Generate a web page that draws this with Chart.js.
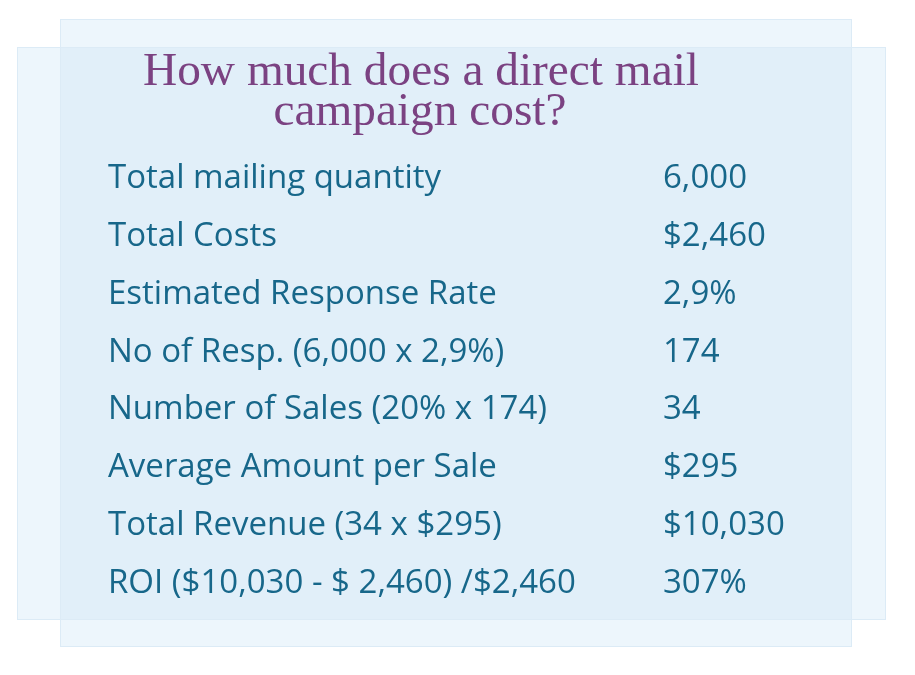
<!DOCTYPE html>
<html>
<head>
<meta charset="utf-8">
<script src="https://cdn.jsdelivr.net/npm/chart.js@4"></script>
<style>
html,body{margin:0;padding:0;background:#ffffff;}
#wrap{width:915px;height:675px;}
</style>
</head>
<body>
<div id="wrap"><canvas id="c" width="915" height="675"></canvas></div>
<script>
const titleLines = ['How much does a direct mail', 'campaign cost?'];
const rowLabels = [
  'Total mailing quantity',
  'Total Costs',
  'Estimated Response Rate',
  'No of Resp. (6,000 x 2,9%)',
  'Number of Sales (20% x 174)',
  'Average Amount per Sale',
  'Total Revenue (34 x $295)',
  'ROI ($10,030 - $ 2,460) /$2,460'
];
const rowValues = ['6,000', '$2,460', '2,9%', '174', '34', '$295', '$10,030', '307%'];

const textColor = '#17678a';
const titleColor = '#7b4282';

const backdrop = {
  id: 'backdrop',
  beforeDraw(chart) {
    const ctx = chart.ctx;
    ctx.save();
    ctx.fillStyle = '#ffffff';
    ctx.fillRect(0, 0, chart.width, chart.height);
    const wide = [17, 47, 869, 573];
    const tall = [60, 19, 792, 628];
    ctx.fillStyle = '#edf6fc';
    ctx.fillRect(...wide);
    ctx.fillRect(...tall);
    ctx.fillStyle = '#e1eff9';
    ctx.fillRect(60, 47, 792, 573);
    ctx.strokeStyle = '#dcebf6';
    ctx.lineWidth = 1;
    ctx.strokeRect(17.5, 47.5, 868, 572);
    ctx.strokeRect(60.5, 19.5, 791, 627);
    ctx.restore();
  },
  afterDraw(chart) {
    const ctx = chart.ctx;
    ctx.save();
    ctx.fillStyle = titleColor;
    ctx.textAlign = 'center';
    ctx.textBaseline = 'alphabetic';
    let size = 46;
    ctx.font = size + 'px "Liberation Serif", serif';
    const w = ctx.measureText(titleLines[0]).width;
    size = size * 556 / w;
    ctx.font = size.toFixed(2) + 'px "Liberation Serif", serif';
    ctx.fillText(titleLines[0], 421, 85);
    ctx.fillText(titleLines[1], 420, 125);
    ctx.restore();
  }
};

new Chart(document.getElementById('c'), {
  type: 'bar',
  data: {
    labels: rowLabels,
    datasets: [{ data: [], yAxisID: 'y', backgroundColor: 'rgba(0,0,0,0)' }]
  },
  options: {
    indexAxis: 'y',
    responsive: false,
    animation: false,
    events: [],
    layout: { padding: { left: 108, right: 52, top: 150, bottom: 63 } },
    plugins: { legend: { display: false }, title: { display: false }, tooltip: { enabled: false } },
    scales: {
      x: { display: false, min: 0, max: 1 },
      y: {
        type: 'category',
        position: 'left',
        offset: true,
        grid: { display: false, drawTicks: false },
        border: { display: false },
        ticks: {
          crossAlign: 'far',
          padding: 0,
          autoSkip: false,
          color: textColor,
          font: { family: '"Open Sans", sans-serif', size: 33 }
        },
        afterFit(scale) { scale.width = 540; }
      },
      y2: {
        type: 'category',
        position: 'right',
        labels: rowValues,
        offset: true,
        grid: { display: false, drawTicks: false },
        border: { display: false },
        ticks: {
          crossAlign: 'near',
          padding: 0,
          autoSkip: false,
          color: textColor,
          font: { family: '"Open Sans", sans-serif', size: 33 }
        },
        afterFit(scale) { scale.width = 200; }
      }
    }
  },
  plugins: [backdrop]
});
</script>
</body>
</html>
